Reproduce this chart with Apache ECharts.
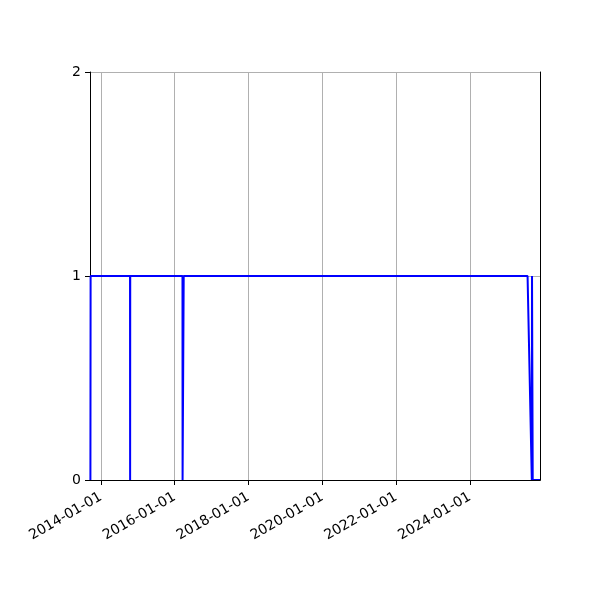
<!DOCTYPE html>
<html>
<head>
<meta charset="utf-8">
<script src="https://cdn.jsdelivr.net/npm/echarts@6/dist/echarts.min.js"></script>
<style>
  html, body { margin: 0; padding: 0; background: #fff; }
  #chart { width: 600px; height: 600px; }
</style>
</head>
<body>
<div id="chart"></div>
<script>
// data
var dates = [
  '2013-09-20', '2013-09-22',
  '2014-10-17', '2014-10-18', '2014-10-19',
  '2016-03-19', '2016-03-20', '2016-03-30', '2016-03-31',
  '2025-07-24', '2025-09-04', '2025-09-06', '2025-09-13', '2025-11-24'
];
var values = [0, 1, 1, 0, 1, 1, 0, 0, 1, 1, 0, 1, 0, 0];
var tickDates = ['2014-01-01', '2016-01-01', '2018-01-01', '2020-01-01', '2022-01-01', '2024-01-01'];
var yTicks = [0, 1, 2];

function ts(s) {
  var p = s.split('-');
  return Date.UTC(+p[0], +p[1] - 1, +p[2]);
}
function pad(n) { return (n < 10 ? '0' : '') + n; }
function fmt(v) {
  var d = new Date(v);
  return d.getUTCFullYear() + '-' + pad(d.getUTCMonth() + 1) + '-' + pad(d.getUTCDate());
}

var points = dates.map(function (d, i) { return [ts(d), values[i]]; });
var tickVals = tickDates.map(ts);
var xMin = ts('2013-09-16'), xMax = ts('2025-11-24');

var chart = echarts.init(document.getElementById('chart'));
chart.setOption({
  animation: false,
  grid: { left: 90, right: 60, top: 72, bottom: 120 },
  xAxis: [{
    type: 'value',
    scale: true,
    min: xMin,
    max: xMax,
    axisLine: { show: true, lineStyle: { color: '#000', width: 1 } },
    axisTick: { show: true, customValues: tickVals, length: 5, lineStyle: { color: '#000' } },
    axisLabel: {
      customValues: tickVals,
      formatter: function (v) { return fmt(v); },
      rotate: 30,
      margin: 16,
      color: '#000',
      fontFamily: 'DejaVu Sans',
      fontSize: 14
    },
    splitLine: { show: true, lineStyle: { color: '#b0b0b0', width: 1 } }
  }, {
    // top spine
    type: 'value', position: 'top', min: xMin, max: xMax, z: 10,
    axisLine: { show: true, lineStyle: { color: '#000', width: 1 } },
    axisTick: { show: false }, axisLabel: { show: false }, splitLine: { show: false }
  }],
  yAxis: [{
    type: 'value',
    min: 0,
    max: 2,
    interval: 1,
    axisLine: { show: true, lineStyle: { color: '#000', width: 1 } },
    axisTick: { show: true, length: 5, lineStyle: { color: '#000' } },
    axisLabel: {
      formatter: function (v) { return yTicks.indexOf(v) >= 0 ? String(v) : ''; },
      margin: 9,
      color: '#000',
      fontFamily: 'DejaVu Sans',
      fontSize: 14
    },
    splitLine: { show: true, lineStyle: { color: '#b0b0b0', width: 1 } }
  }, {
    // right spine
    type: 'value', position: 'right', min: 0, max: 2, z: 10,
    axisLine: { show: true, lineStyle: { color: '#000', width: 1 } },
    axisTick: { show: false }, axisLabel: { show: false }, splitLine: { show: false }
  }],
  series: [{
    type: 'line',
    data: points,
    showSymbol: false,
    symbol: 'none',
    lineStyle: { color: '#0000ff', width: 2 },
    clip: true
  }]
});
</script>
</body>
</html>
